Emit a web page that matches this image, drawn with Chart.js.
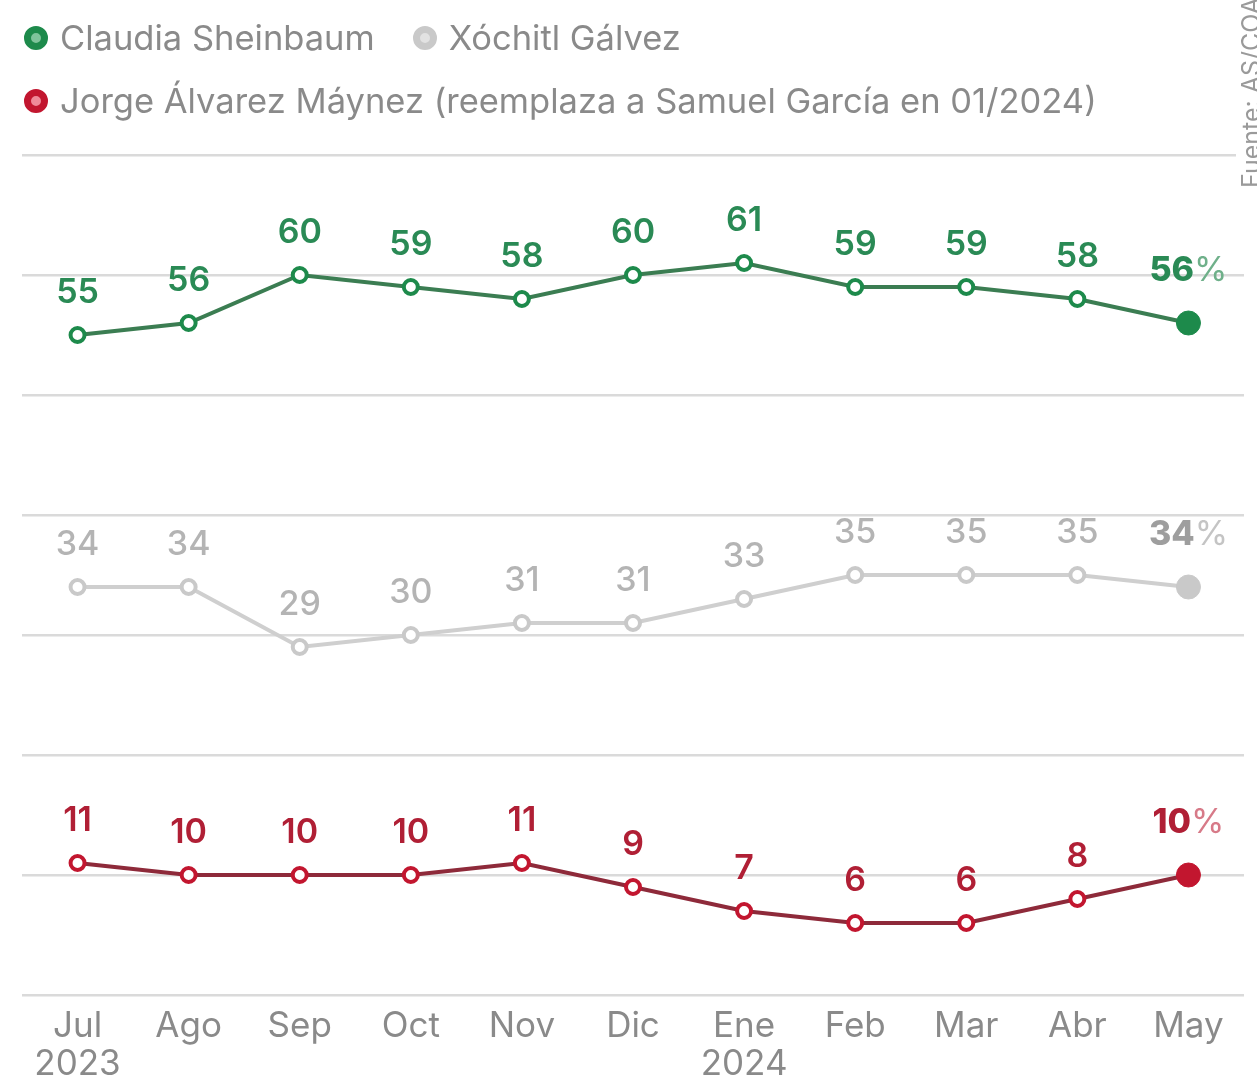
<!DOCTYPE html>
<html>
<head>
<meta charset="utf-8">
<script src="https://cdn.jsdelivr.net/npm/chart.js@4"></script>
<style>
    html, body { margin:0; padding:0; background:#fff; overflow:hidden; }
    body { width:1257px; height:1080px; position:relative; font-family:Inter, "Noto Sans", sans-serif; }
    #wrap { position:absolute; left:0; top:0; width:1257px; height:1096px; }
    .legend-row { position:absolute; left:24px; display:flex; align-items:center; gap:38px; }
    .legend-item { display:flex; align-items:center; gap:12px; font-size:34.5px; color:#8a8a8a; white-space:nowrap; }
    .dot { width:10px; height:10px; border-radius:50%; border:7px solid; box-sizing:content-box; }
    #source { position:absolute; left:1236px; top:192px; transform-origin:0 0; transform:rotate(-90deg);
              font-size:25px; color:#9a9a9a; white-space:nowrap; background:#fff; padding:0 4px; }
</style>
</head>
<body>
<div id="wrap"><canvas id="chart"></canvas></div>
<div id="legend"></div>
<div id="source">Fuente: AS/COA</div>

<script>
// ── Data ───────────────────────────────────────
const months    = ['Jul','Ago','Sep','Oct','Nov','Dic','Ene','Feb','Mar','Abr','May'];
const yearMarks = ['2023','','','','','','2024','','','',''];

const sheinbaum = [55, 56, 60, 59, 58, 60, 61, 59, 59, 58, 56];
const galvez    = [34, 34, 29, 30, 31, 31, 33, 35, 35, 35, 34];
const maynez    = [11, 10, 10, 10, 11,  9,  7,  6,  6,  8, 10];

const names = [
    'Claudia Sheinbaum',
    'Xóchitl Gálvez',
    'Jorge Álvarez Máynez (reemplaza a Samuel García en 01/2024)',
];

// ── Styles per series ──────────────────────────
const SERIES = [
    { data: sheinbaum, point:'#1d8a4b', line:'#3b7d52', label:'#2a8a55', pct:'#6fb08a', light:'#7fc49b', weight:600 },
    { data: galvez,    point:'#c9c9c9', line:'#cfcfcf', label:'#b4b4b4', pct:'#c4c4c4', light:'#e2e2e2', weight:500, bold:'#9e9e9e' },
    { data: maynez,    point:'#c2162f', line:'#8e2a3a', label:'#b01f35', pct:'#d77a88', light:'#ef8a99', weight:600 },
];

const labels = months.map((m, i) => yearMarks[i] ? [m, yearMarks[i]] : m);

const FONT = 'Inter, sans-serif';

// ── Custom legend (2 + 1 rows) ─────────────────
function legendItem(i) {
    const s = SERIES[i];
    return `<div class="legend-item">
                <div class="dot" style="border-color:${s.point};background:${s.light}"></div>
                <span>${names[i]}</span>
            </div>`;
}
document.getElementById('legend').innerHTML = `
    <div class="legend-row" style="top:17px">${legendItem(0)}${legendItem(1)}</div>
    <div class="legend-row" style="top:80px">${legendItem(2)}</div>`;

// ── Value labels above each point ──────────────
const valueLabels = {
    id: 'valueLabels',
    afterDatasetsDraw(chart) {
        const { ctx } = chart;
        chart.data.datasets.forEach((ds, di) => {
            const s    = SERIES[di];
            const last = ds.data.length - 1;
            chart.getDatasetMeta(di).data.forEach((pt, i) => {
                const txt = String(ds.data[i]);
                ctx.save();
                ctx.textBaseline = 'alphabetic';
                if (i === last) {
                    ctx.font = `800 34px ${FONT}`;
                    const wNum = ctx.measureText(txt).width;
                    ctx.font = `400 34px ${FONT}`;
                    const wPct = ctx.measureText('%').width;
                    const x0 = pt.x - (wNum + wPct) / 2;
                    const y  = pt.y - 42;
                    ctx.textAlign = 'left';
                    ctx.font = `800 34px ${FONT}`;
                    ctx.fillStyle = s.bold || s.label;
                    ctx.fillText(txt, x0, y);
                    ctx.font = `400 34px ${FONT}`;
                    ctx.fillStyle = s.pct;
                    ctx.fillText('%', x0 + wNum, y);
                } else {
                    ctx.font = `${s.weight} 34px ${FONT}`;
                    ctx.textAlign = 'center';
                    ctx.fillStyle = s.label;
                    ctx.fillText(txt, pt.x, pt.y - 32);
                }
                ctx.restore();
            });
        });
    },
};

// ── Chart ──────────────────────────────────────
const isLast = ctx => ctx.dataIndex === ctx.dataset.data.length - 1;

new Chart(document.getElementById('chart'), {
    type: 'line',
    data: {
        labels,
        datasets: SERIES.map((s, i) => ({
            label:                names[i],
            data:                 s.data,
            borderColor:          s.line,
            borderWidth:          4,
            pointRadius:          c => isLast(c) ? 12 : 7,
            pointBorderWidth:     c => isLast(c) ? 1 : 4,
            pointBorderColor:     s.point,
            pointBackgroundColor: c => isLast(c) ? s.point : '#fff',
            tension:              0,
        })),
    },
    options: {
        responsive:          true,
        maintainAspectRatio: false,
        animation:           false,
        layout: { padding: { top:155, left:22, right:12, bottom:0 } },
        plugins: {
            legend:  { display: false },
            tooltip: { enabled: false },
        },
        scales: {
            x: {
                offset: true,
                grid:   { display: false, drawTicks: false },
                border: { display: false },
                ticks:  {
                    color: '#8a8a8a',
                    padding: 12,
                    maxRotation: 0,
                    autoSkip: false,
                    font: { family: FONT, size: 35, lineHeight: 1.1 },
                },
            },
            y: {
                min: 0,
                max: 70,
                ticks:  { display: false, stepSize: 10 },
                grid:   { color:'#dadada', lineWidth:2.5, drawTicks:false },
                border: { display: false },
            },
        },
    },
    plugins: [valueLabels],
});
</script>
</body>
</html>
